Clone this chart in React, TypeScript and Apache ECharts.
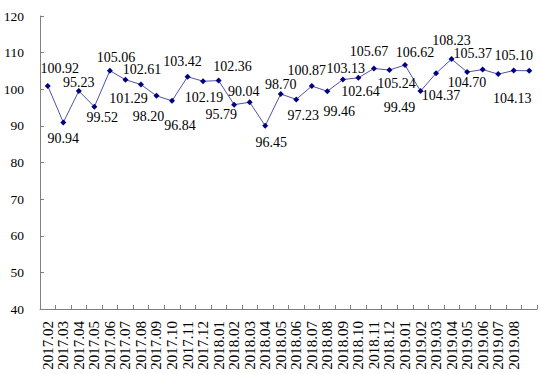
import React, { useEffect, useRef } from "react";
import * as echarts from "echarts";

const categories = [
  "2017.02", "2017.03", "2017.04", "2017.05", "2017.06", "2017.07", "2017.08", "2017.09",
  "2017.10", "2017.11", "2017.12", "2018.01", "2018.02", "2018.03", "2018.04", "2018.05",
  "2018.06", "2018.07", "2018.08", "2018.09", "2018.10", "2018.11", "2018.12", "2019.01",
  "2019.02", "2019.03", "2019.04", "2019.05", "2019.06", "2019.07", "2019.08", "",
];

const values = [
  100.92, 90.94, 99.52, 95.23, 105.06, 102.61, 101.29, 98.2,
  96.84, 103.42, 102.19, 102.36, 95.79, 96.45, 90.04, 98.7,
  97.23, 100.87, 99.46, 102.64, 103.13, 105.67, 105.24, 106.62,
  99.49, 104.37, 108.23, 104.7, 105.37, 104.13, 105.1, 105.05,
];

// text shown next to each point in the reference
const labelTexts = [
  "100.92", "90.94", "95.23", "99.52", "105.06", "101.29", "102.61", "98.20",
  "96.84", "103.42", "102.19", "102.36", "95.79", "90.04", "96.45", "98.70",
  "97.23", "100.87", "99.46", "103.13", "102.64", "105.67", "105.24", "106.62",
  "99.49", "104.37", "108.23", "104.70", "105.37", "104.13", "105.10", "",
];

const yMin = 40;
const yMax = 120;
const yStep = 10;

// label offsets (px) relative to each point
const labelOffsets: [number, number][] = [
  [12, -17], [0, 16], [0, -9], [8, 11], [6, -13], [3, 19], [1, -15], [-8, 21],
  [8, 25], [-5, -15], [1, 16], [14, -14], [-13, 10], [-6, -11], [6, 17], [0, -10],
  [7, 16], [-5, -16], [12, 20], [3, -11], [2, 14], [-5, -17], [7, 13], [10, -13],
  [-21, 16], [5, 22], [0, -19], [0, 10], [-10, -16], [14, 24], [0, -15], [0, 0],
];

const FONT = "'Liberation Serif', 'Times New Roman', serif";

export default function App() {
  const ref = useRef<HTMLDivElement>(null);
  useEffect(() => {
    if (!ref.current) return;
    const chart = echarts.init(ref.current, null, { renderer: "svg" });
    chart.setOption({
      animation: false,
      backgroundColor: "#ffffff",
      grid: { left: 40, top: 16, width: 497, height: 293, containLabel: false },
      xAxis: {
        type: "category",
        data: categories,
        boundaryGap: true,
        axisLine: { lineStyle: { color: "#808080", width: 1 } },
        axisTick: { show: true, inside: true, length: 4, alignWithLabel: false, lineStyle: { color: "#808080" } },
        axisLabel: {
          rotate: 90,
          interval: 0,
          margin: 12,
          color: "#000",
          fontFamily: FONT,
          fontSize: 15,
        },
        splitLine: { show: false },
      },
      yAxis: {
        type: "value",
        min: yMin,
        max: yMax,
        interval: yStep,
        axisLine: { show: true, lineStyle: { color: "#808080", width: 1 } },
        axisTick: { show: true, inside: true, length: 4, lineStyle: { color: "#808080" } },
        axisLabel: { color: "#000", fontFamily: FONT, fontSize: 13.5, margin: 16 },
        splitLine: { show: false },
      },
      series: [
        {
          type: "line",
          data: values,
          symbol: "diamond",
          symbolSize: 6,
          itemStyle: { color: "#000080" },
          lineStyle: { color: "#5050a8", width: 1 },
          label: {
            show: true,
            position: "inside",
            color: "#000",
            fontFamily: FONT,
            fontSize: 14,
            formatter: (p: any) => labelTexts[p.dataIndex],
          },
          labelLayout: (p: any) => ({
            dx: labelOffsets[p.dataIndex][0],
            dy: labelOffsets[p.dataIndex][1],
            hideOverlap: false,
          }),
        },
      ],
    });
    return () => chart.dispose();
  }, []);
  return <div ref={ref} style={{ width: 541, height: 374, position: "absolute", left: 0, top: 0 }} />;
}
